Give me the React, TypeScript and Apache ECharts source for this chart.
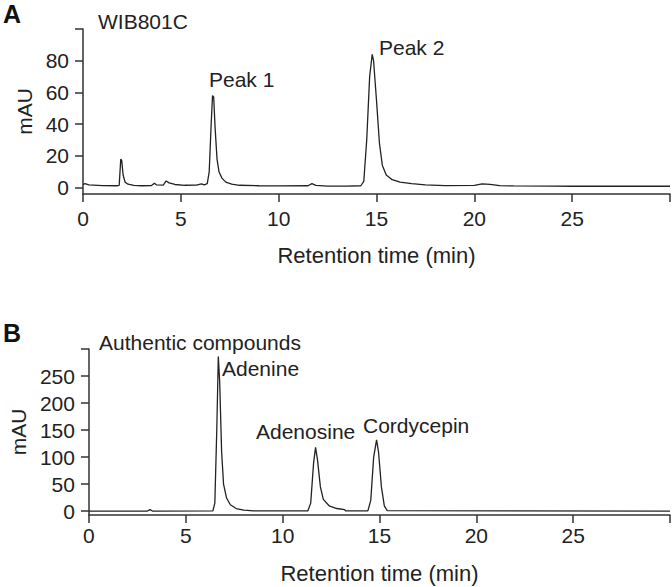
import React, { useEffect, useRef } from "react";
import * as echarts from "echarts";

// Panel A: WIB801C chromatogram (time in min, mAU)
const timesA = [0, 0.1, 0.3, 1.0, 1.7, 1.85, 1.93, 1.98, 2.05, 2.15, 2.3, 2.6, 3.0, 3.5, 3.65, 3.75, 4.1, 4.25, 4.4, 4.7, 5.2, 5.8, 6.05, 6.2, 6.35, 6.45, 6.55, 6.62, 6.68, 6.75, 6.85, 6.95, 7.1, 7.3, 7.6, 8.0, 9.0, 10.0, 11.5, 11.7, 11.9, 12.5, 13.5, 14.2, 14.35, 14.5, 14.65, 14.78, 14.85, 15.0, 15.15, 15.3, 15.5, 15.8, 16.2, 16.8, 17.5, 18.5, 20.0, 20.4, 20.8, 21.3, 22.0, 24.0, 25.0, 30.0];
const valuesA = [2.0, 2.5, 1.8, 1.3, 1.2, 1.5, 18, 17, 8, 3.5, 2.2, 1.5, 1.2, 1.3, 2.8, 1.8, 1.6, 4.2, 3.0, 2.0, 1.5, 1.6, 2.4, 1.8, 2.5, 10, 40, 58, 57, 38, 18, 10, 6, 3.5, 2.2, 1.5, 1.2, 1.1, 1.2, 2.5, 1.5, 1.0, 1.0, 1.2, 4, 30, 70, 84, 80, 55, 28, 14, 8, 5, 3.5, 2.5, 1.8, 1.3, 1.4, 2.4, 2.1, 1.3, 1.1, 1.0, 0.9, 0.9];

// Panel B: authentic compounds
const timesB = [0, 3.0, 3.15, 3.3, 6.4, 6.5, 6.6, 6.68, 6.75, 6.85, 6.95, 7.1, 7.3, 7.6, 8.0, 8.5, 11.3, 11.45, 11.6, 11.7, 11.8, 11.95, 12.1, 12.4, 12.8, 13.2, 13.25, 14.4, 14.55, 14.7, 14.85, 14.95, 15.1, 15.25, 15.4, 30.0];
const valuesB = [0, 0, 3, 0, 0.5, 15, 150, 286, 240, 110, 50, 25, 12, 5, 2, 0.5, 0.5, 15, 90, 118, 95, 45, 22, 10, 5, 3, 0.5, 0.5, 20, 100, 132, 110, 45, 10, 1, 0];

const xTicks = [0, 5, 10, 15, 20, 25, 30];
const yTicksA = [0, 20, 40, 60, 80, 100];
const yLabelsA = [0, 20, 40, 60, 80];
const yTicksB = [0, 50, 100, 150, 200, 250, 300];
const yLabelsB = [0, 50, 100, 150, 200, 250];

const peakLabelsA = ["Peak 1", "Peak 2"];
const peakLabelsB = ["Adenine", "Adenosine", "Cordycepin"];

const FONT = "Liberation Sans";
const TXT = "#222";
const AX = "#333";

export default function App() {
  const ref = useRef<HTMLDivElement>(null);
  useEffect(() => {
    if (!ref.current) return;
    const chart = echarts.init(ref.current, null, { renderer: "svg" });
    const dataA = timesA.map((t, i) => [t, valuesA[i]]);
    const dataB = timesB.map((t, i) => [t, valuesB[i]]);
    const xAxisBase = (gridIndex: number, labelMargin: number, nameGap: number) => ({
      type: "value",
      gridIndex,
      min: 0,
      max: 30,
      interval: 5,
      name: "Retention time (min)",
      nameLocation: "middle",
      nameGap,
      nameTextStyle: { fontFamily: FONT, fontSize: 22, color: TXT },
      axisLine: { show: true, onZero: false, lineStyle: { color: AX, width: 1.5 } },
      axisTick: { show: true, length: 8, lineStyle: { color: AX, width: 1.5 }, customValues: xTicks },
      axisLabel: {
        fontFamily: FONT,
        fontSize: 21,
        color: TXT,
        margin: labelMargin,
        customValues: xTicks.filter((v) => v !== 30),
      },
      splitLine: { show: false },
    });
    const yAxisBase = (gridIndex: number, min: number, max: number, ticks: number[], labels: number[], nameGap: number) => ({
      type: "value",
      gridIndex,
      min,
      max,
      name: "mAU",
      nameLocation: "middle",
      nameGap,
      nameTextStyle: { fontFamily: FONT, fontSize: 21, color: TXT },
      axisLine: { show: true, onZero: false, lineStyle: { color: AX, width: 1.5 } },
      axisTick: { show: true, length: 8, lineStyle: { color: AX, width: 1.5 }, customValues: ticks },
      axisLabel: { fontFamily: FONT, fontSize: 21, color: TXT, margin: 14, customValues: labels },
      splitLine: { show: false },
    });
    const text = (t: string, x: number, y: number, size = 21, bold = false) => ({
      type: "text",
      x,
      y,
      style: {
        text: t,
        fontFamily: FONT,
        fontSize: size,
        fontWeight: bold ? "bold" : "normal",
        fill: bold ? "#111" : TXT,
        textAlign: "left",
        textVerticalAlign: "middle",
      },
    });
    chart.setOption({
      animation: false,
      backgroundColor: "#fff",
      grid: [
        { left: 83, top: 29, width: 587, height: 165 },
        { left: 83, top: 349, width: 587, height: 166 },
      ],
      xAxis: [xAxisBase(0, 14, 50), xAxisBase(1, 10, 47)],
      yAxis: [
        yAxisBase(0, -4, 100, yTicksA, yLabelsA, 48),
        yAxisBase(1, -7, 300, yTicksB, yLabelsB, 59),
      ],
      series: [
        {
          type: "line",
          xAxisIndex: 0,
          yAxisIndex: 0,
          data: dataA,
          showSymbol: false,
          lineStyle: { color: "#222", width: 1.3 },
        },
        {
          type: "line",
          xAxisIndex: 1,
          yAxisIndex: 1,
          data: dataB,
          showSymbol: false,
          lineStyle: { color: "#222", width: 1.3 },
        },
      ],
      graphic: [
        text("A", 3, 14, 25, true),
        text("B", 3, 333, 25, true),
        text("WIB801C", 98, 21),
        text(peakLabelsA[0], 209, 79),
        text(peakLabelsA[1], 379, 47),
        text("Authentic compounds", 99, 342),
        text(peakLabelsB[0], 222, 368),
        text(peakLabelsB[1], 256, 431),
        text(peakLabelsB[2], 363, 425),
      ],
    });
    return () => chart.dispose();
  }, []);
  return (
    <div
      ref={ref}
      style={{ position: "absolute", left: 0, top: 0, width: 672, height: 587 }}
    />
  );
}
